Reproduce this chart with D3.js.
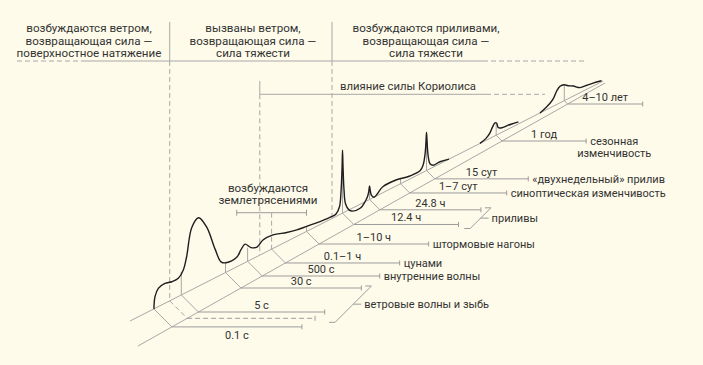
<!DOCTYPE html>
<html><head><meta charset="utf-8">
<script src="https://cdn.jsdelivr.net/npm/d3@7"></script>
<style>
html,body{margin:0;padding:0;background:#fefbea;}
svg{display:block;}
text{font-family:Roboto,"Noto Sans",sans-serif;font-size:11px;fill:#333;}
text.hd{font-size:11.6px;}
text.md{font-size:11.3px;}
</style></head><body>
<svg id="c" width="703" height="365"></svg>
<script>
// ---------------- DATA ----------------
const periodLabels  = ["0.1 с", "", "5 с", "30 с", "500 с", "0.1–1 ч", "1–10 ч", "12.4 ч", "24.8 ч", "1–7 сут", "15 сут", "1 год", "4–10 лет"];
const periodSeconds = [0.1, 1, 5, 30, 500, 1140, 11400, 44640, 89280, 228600, 1296000, 31557600, 199500000];
const phenomena = [null, null, null, null, ["внутренние волны"], ["цунами"], ["штормовые нагоны"], null, null,
                   ["синоптическая изменчивость"], ["«двухнедельный» прилив"], ["сезонная", "изменчивость"], null];
const groupLabels = ["ветровые волны и зыбь", "приливы"];
const groupMembers = [[3, 1], [8, 7]];            // [upper line index, lower line index]
const headerTexts = [
  ["возбуждаются ветром,", "возвращающая сила —", "поверхностное натяжение"],
  ["вызваны ветром,", "возвращающая сила —", "сила тяжести"],
  ["возбуждаются приливами,", "возвращающая сила —", "сила тяжести"]
];
const headerBoundsSec = [1, 30000];
const coriolisLabel = "влияние силы Кориолиса";
const coriolisFromSec = 760;
const quakeLabel = ["возбуждаются", "землетрясениями"];
const quakeRangeSec = [125, 11400];
const quakeCenterSec = 1140;
// spectrum: [log10(period, s), relative energy]
const spectrumShort = [[-1.00,0],[-0.93,11.6],[-0.72,18.3],[-0.30,19.9],[0.12,18.1],[0.52,18.2],[0.734,24],[0.794,36],
  [0.882,62],[1.002,68.5],[1.146,55],[1.292,29],[1.398,13],[1.505,9.5],[2.096,9.5],[2.334,15],[2.555,18.5],[2.75,12],
  [2.839,9.5],[2.928,13.5],[3.096,13.5],[3.49,9],[3.78,6.4],[4.06,5],[4.28,3],[4.47,2],[4.543,2.5],[4.60,8],[4.625,22],
  [4.642,45],[4.650,63],[4.656,45],[4.667,22],[4.683,8],[4.722,0],[4.76,-3],[4.85,-4],[4.901,0],[4.929,4],[4.942,8],
  [4.951,13.5],[4.962,8],[4.977,3],[5.010,0],[5.13,6],[5.30,6],[5.63,3],[5.925,3],[6.012,7],[6.070,17],[6.099,30],
  [6.113,38],[6.123,30],[6.143,15],[6.183,5],[6.242,2],[6.38,2],[6.56,0]];
const spectrumAnnual = [[7.177,0],[7.296,2],[7.376,5.5],[7.425,10],[7.475,13],[7.503,12],[7.524,6.5],[7.567,4.5],
  [7.623,4],[7.682,3.3],[7.760,2]];
const spectrumLong = [[8.014,0],[8.085,2.5],[8.132,4.6],[8.171,7.5],[8.211,13.5],[8.250,16.5],[8.297,16],[8.344,13],
  [8.406,10],[8.485,5],[8.564,4],[8.638,3],[8.738,1]];

// ---------------- LAYOUT ----------------
const svg = d3.select("#c");
const up0=[130,321], up1=[603,81], lo0=[138,346], lo1=[605,83];
const mUp=(up1[1]-up0[1])/(up1[0]-up0[0]);
const mLo=(lo1[1]-lo0[1])/(lo1[0]-lo0[0]);
const upY = x => up0[1] + mUp*(x-up0[0]);
const loY = x => lo0[1] + mLo*(x-lo0[0]);
const axisX = d3.scaleLinear()
  .domain(periodSeconds.map(Math.log10))
  .range([153.9,169.7,181.3,225.5,247.6,271.6,306.5,342.5,369.5,400.5,426.5,496.2,564.3]);
const energy = d3.scaleLinear().domain([0,70]).range([0,70]);
const upper = lp => { const x=axisX(lp); return [x, upY(x)]; };
const lower = lp => { const [x,y]=upper(lp); const t=(loY(x)-y)/(1-mLo); return [x+t, y+t]; };
const lineEnd = lx => 302 + 0.861*(lx-172);

const GRAY="#9c9c9c", LGRAY="#a8a8a8", DASH="5,3";
const g = svg.append("g");
function seg(x1,y1,x2,y2,col,dash,w){
  const l=g.append("line").attr("x1",x1).attr("y1",y1).attr("x2",x2).attr("y2",y2)
    .attr("stroke",col||GRAY).attr("stroke-width",w||1);
  if(dash) l.attr("stroke-dasharray",dash);
  return l;
}

// header
const hy=61;
seg(17,hy,83,hy,LGRAY,DASH); seg(83,hy,483,hy,LGRAY); seg(483,hy,585,hy,LGRAY,DASH);
headerBoundsSec.forEach(s=>{
  const [x,y]=upper(Math.log10(s));
  seg(x,22,x,hy,LGRAY); seg(x,hy,x,y,LGRAY,DASH);
});
const headerCenters=[89,253,426];
headerTexts.forEach((lines,i)=>{
  lines.forEach((t,j)=>g.append("text").attr("class","hd").attr("x",headerCenters[i]).attr("y",32.3+j*12.5)
    .attr("text-anchor","middle").text(t));
});

// coriolis
{
  const [x,y]=upper(Math.log10(coriolisFromSec));
  const cy=94.3;
  seg(x,81,x,cy,LGRAY); seg(x,cy,486,cy,LGRAY); seg(486,cy,545,cy,LGRAY,DASH);
  seg(x,cy,x,y,LGRAY,DASH);
  g.append("text").attr("class","md").attr("x",340).attr("y",90).text(coriolisLabel);
}

// earthquakes
{
  const by=212.7;
  const xa=axisX(Math.log10(quakeRangeSec[0])), xb=axisX(Math.log10(quakeRangeSec[1]));
  seg(xa,by,xb,by,GRAY); seg(xa,by-3,xa,by+3,GRAY); seg(xb,by-3,xb,by+3,GRAY);
  const [cx,cyy]=upper(Math.log10(quakeCenterSec));
  seg(cx,by,cx,cyy,LGRAY,DASH);
  quakeLabel.forEach((t,j)=>g.append("text").attr("class","hd").attr("x",268).attr("y",191.5+j*12.5).attr("text-anchor","middle").text(t));
}

// ribbon
seg(up0[0],up0[1],up1[0],up1[1],LGRAY);
seg(lo0[0],lo0[1],lo1[0],lo1[1],LGRAY);

// period ticks
const allSpec=[spectrumShort,spectrumAnnual,spectrumLong];
function specAt(lp){
  for(const s of allSpec){
    if(lp>=s[0][0] && lp<=s[s.length-1][0]){
      const i=d3.bisector(d=>d[0]).left(s,lp);
      if(i===0) return s[0][1];
      const a=s[i-1], b=s[i]; const f=(lp-a[0])/(b[0]-a[0]);
      return a[1]+f*(b[1]-a[1]);
    }
  }
  return null;
}
const ends=[];
periodSeconds.forEach((s,i)=>{
  const lp=Math.log10(s);
  const [ux,uy]=upper(lp), [lx,ly]=lower(lp);
  const ex=lineEnd(lx);
  ends.push([lx,ly,ex]);
  const dash = i===1 ? DASH : null;
  seg(ux,uy,lx,ly,LGRAY,dash);
  seg(lx,ly,ex,ly,GRAY,dash);
  seg(ex,ly-2.5,ex,ly+2.5,GRAY);
  if(i!==1 && i!==5){
    const e=specAt(lp);
    if(e!==null && e>1) seg(ux,uy,ux,uy-energy(e),LGRAY);
  }
  if(periodLabels[i]){
    g.append("text").attr("x",(lx+ex)/2).attr("y", i===0 ? ly+12.5 : ly-3)
      .attr("text-anchor","middle").text(periodLabels[i]);
  }
  if(phenomena[i]){
    const lines=phenomena[i];
    if(lines.length===1){
      g.append("text").attr("x",ex+4).attr("y",ly+4).text(lines[0]);
    } else {
      const t0=g.append("text").attr("x",ex+4).attr("y",ly+4).text(lines[0]);
      const w=t0.node().getComputedTextLength();
      const cx=ex+4+w/2;
      t0.attr("x",cx).attr("text-anchor","middle");
      g.append("text").attr("x",cx).attr("y",ly+4+12).attr("text-anchor","middle").text(lines[1]);
    }
  }
});

// group brackets
groupMembers.forEach(([ti,bi],k)=>{
  const top=ends[ti], bot=ends[bi];
  const yt=top[1]-2, yb=bot[1]+4, xt=top[2]+4, d=yb-yt;
  seg(xt,yt,xt+6,yt,GRAY);
  seg(xt+6,yt,xt+6-d,yb,GRAY);
  seg(xt-d,yb,xt+6-d,yb,GRAY);
  const mx=xt+6-d/2, my=(yt+yb)/2;
  seg(mx,my,mx+8,my,GRAY);
  g.append("text").attr("x",mx+11).attr("y",my+4).text(groupLabels[k]);
});

// spectrum curve
const line=d3.line()
  .x(d=>axisX(d[0]))
  .y(d=>upY(axisX(d[0]))-energy(d[1]))
  .curve(d3.curveCatmullRom.alpha(0.5));
allSpec.forEach(s=>g.append("path").attr("d",line(s)).attr("fill","none")
  .attr("stroke","#1e1e1e").attr("stroke-width",1.4).attr("stroke-linejoin","round"));
</script>
</body></html>
